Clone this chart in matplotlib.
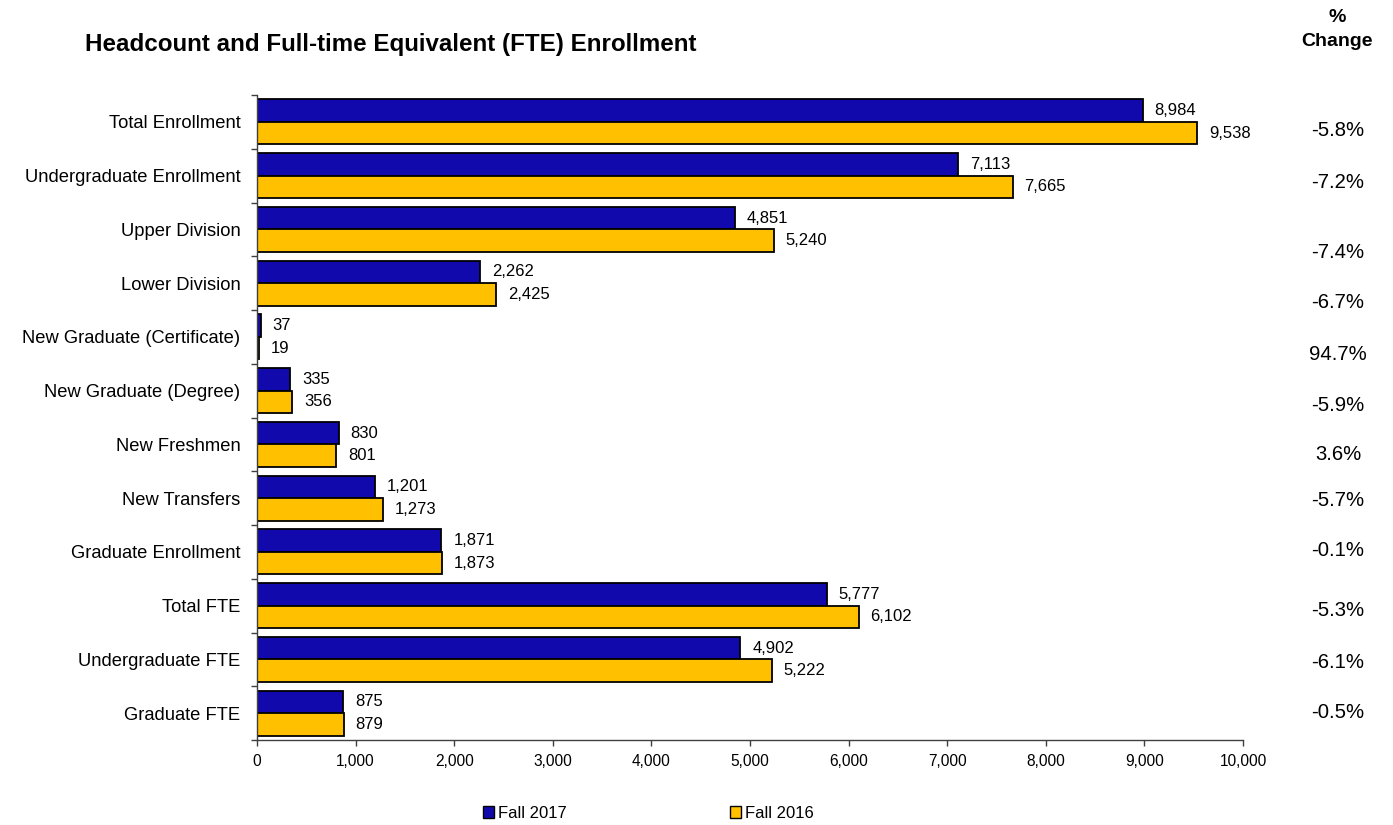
import matplotlib
matplotlib.use("Agg")
import matplotlib.pyplot as plt
from matplotlib.patches import Patch
import numpy as np

plt.rcParams['font.family'] = ['Liberation Sans', 'DejaVu Sans']

# dados
categorias = ["Total Enrollment", "Undergraduate Enrollment", "Upper Division",
              "Lower Division", "New Graduate (Certificate)", "New Graduate (Degree)",
              "New Freshmen", "New Transfers", "Graduate Enrollment", "Total FTE",
              "Undergraduate FTE", "Graduate FTE"]
fall2017 = [8984, 7113, 4851, 2262, 37, 335, 830, 1201, 1871, 5777, 4902, 875]
fall2016 = [9538, 7665, 5240, 2425, 19, 356, 801, 1273, 1873, 6102, 5222, 879]
variacao = ["-5.8%", "-7.2%", "-7.4%", "-6.7%", "94.7%", "-5.9%",
            "3.6%", "-5.7%", "-0.1%", "-5.3%", "-6.1%", "-0.5%"]
# posicao vertical (pixels) da coluna de % change
y_var_px = [130, 183, 252, 302, 354, 405, 455, 501, 551, 610, 662, 713]

azul = "#1209AC"
amarelo = "#FFC000"

W, H = 1393, 825
fig = plt.figure(figsize=(W / 100, H / 100), dpi=100)
ax = fig.add_axes([257 / W, 1 - 740 / H, (1243 - 257) / W, (740 - 95) / H])

y = np.arange(len(categorias))
alt = 0.42
ax.barh(y - 0.21, fall2017, height=alt, color=azul, edgecolor="black", linewidth=1.3)
ax.barh(y + 0.21, fall2016, height=alt, color=amarelo, edgecolor="black", linewidth=1.3)

for i in range(len(categorias)):
    ax.annotate(f"{fall2017[i]:,}", (fall2017[i], y[i] - 0.21), xytext=(8.5, 0),
                textcoords="offset points", va="center", ha="left", fontsize=12)
    ax.annotate(f"{fall2016[i]:,}", (fall2016[i], y[i] + 0.21), xytext=(8.5, 0),
                textcoords="offset points", va="center", ha="left", fontsize=12)

ax.set_xlim(0, 10000)
ax.set_ylim(len(categorias) - 0.5, -0.5)
ax.set_xticks(np.arange(0, 10001, 1000))
ax.set_xticklabels([f"{v:,}" for v in range(0, 10001, 1000)], fontsize=11.2)
ax.set_yticks(np.arange(-0.5, len(categorias), 1))
ax.set_yticklabels([])
ax.set_yticks(y, minor=True)
ax.set_yticklabels(categorias, minor=True, fontsize=13.2)
ax.tick_params(axis="y", which="minor", length=0, pad=12)
ax.tick_params(axis="y", which="major", length=4, width=1, color="#404040")
ax.tick_params(axis="x", length=4, width=1, color="#404040", pad=6)
for s in ["top", "right"]:
    ax.spines[s].set_visible(False)
for s in ["left", "bottom"]:
    ax.spines[s].set_color("#404040")
    ax.spines[s].set_linewidth(1)

fig.text(85 / W, 1 - 44 / H, "Headcount and Full-time Equivalent (FTE) Enrollment",
         fontsize=17.4, fontweight="bold", va="center", ha="left")
fig.text(1337 / W, 1 - 17 / H, "%", fontsize=14, fontweight="bold",
         ha="center", va="center")
fig.text(1337 / W, 1 - 42 / H, "Change", fontsize=14, fontweight="bold",
         ha="center", va="center")
for txt, yp in zip(variacao, y_var_px):
    fig.text(1338 / W, 1 - yp / H, txt, fontsize=14.6, ha="center", va="center")

handles = [Patch(facecolor=azul, edgecolor="black", label="Fall 2017"),
           Patch(facecolor=amarelo, edgecolor="black", label="Fall 2016")]
fig.legend(handles=handles, loc="center", bbox_to_anchor=(648 / W, 1 - 813 / H),
           ncol=2, frameon=False, fontsize=12, handlelength=0.7, handleheight=0.7,
           handletextpad=0.2, columnspacing=9.8)

fig.savefig("out.png", dpi=100)
